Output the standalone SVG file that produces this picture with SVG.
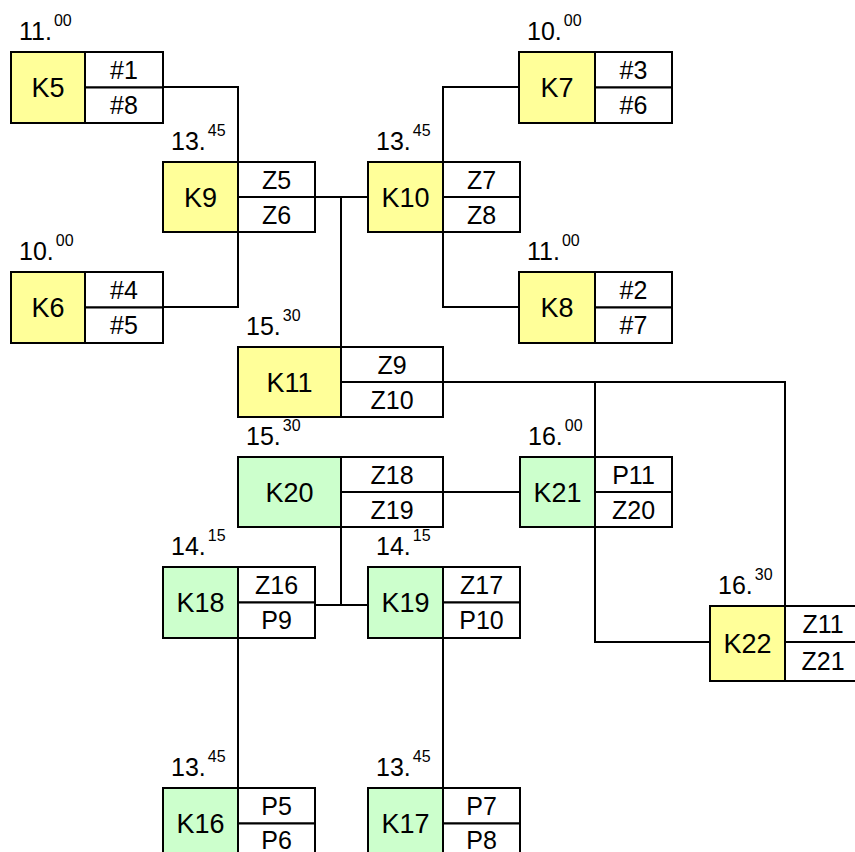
<svg xmlns="http://www.w3.org/2000/svg" width="855" height="852" viewBox="0 0 855 852">
<style>
.y{fill:#FFFF99;stroke:#000;stroke-width:2}
.g{fill:#CCFFCC;stroke:#000;stroke-width:2}
.w{fill:#FFFFFF;stroke:#000;stroke-width:2}
.ln{fill:none;stroke:#000;stroke-width:2}
text{font-family:"Liberation Sans",Arial,sans-serif;fill:#000}
.n{font-size:27px;text-anchor:middle}
.s{font-size:25px;text-anchor:middle}
.t{font-size:25px}
.sup{font-size:16px}
</style>
<rect width="855" height="852" fill="#fff"/>
<g id="connectors">
<path class="ln" d="M163,87 H238 V162"/>
<path class="ln" d="M163,307 H238 V232"/>
<path class="ln" d="M315,197 H368"/>
<path class="ln" d="M443,162 V87 H519"/>
<path class="ln" d="M443,232 V307 H519"/>
<path class="ln" d="M341,197 V347"/>
<path class="ln" d="M443,382 H785 V606"/>
<path class="ln" d="M595,382 V457"/>
<path class="ln" d="M443,492 H520"/>
<path class="ln" d="M595,527 V642 H710"/>
<path class="ln" d="M341,527 V605"/>
<path class="ln" d="M315,605 H368"/>
<path class="ln" d="M238,638 V788"/>
<path class="ln" d="M443,638 V788"/>
</g>
<g id="K5">
<rect class="y" x="11" y="52" width="74" height="71"/>
<rect class="w" x="85" y="52" width="78" height="35.5"/>
<rect class="w" x="85" y="87.5" width="78" height="35.5"/>
<text class="n" x="48" y="97">K5</text>
<text class="s" x="124" y="78.5">#1</text>
<text class="s" x="124" y="113.5">#8</text>
<text class="t" x="19" y="40">11.<tspan class="sup" dx="2" dy="-14">00</tspan></text>
</g>
<g id="K6">
<rect class="y" x="11" y="272" width="74" height="71"/>
<rect class="w" x="85" y="272" width="78" height="35.5"/>
<rect class="w" x="85" y="307.5" width="78" height="35.5"/>
<text class="n" x="48" y="317">K6</text>
<text class="s" x="124" y="298.5">#4</text>
<text class="s" x="124" y="333.5">#5</text>
<text class="t" x="19" y="260">10.<tspan class="sup" dx="2" dy="-14">00</tspan></text>
</g>
<g id="K7">
<rect class="y" x="519" y="52" width="76" height="71"/>
<rect class="w" x="595" y="52" width="77" height="35.5"/>
<rect class="w" x="595" y="87.5" width="77" height="35.5"/>
<text class="n" x="557" y="97">K7</text>
<text class="s" x="633.5" y="78.5">#3</text>
<text class="s" x="633.5" y="113.5">#6</text>
<text class="t" x="527" y="40">10.<tspan class="sup" dx="2" dy="-14">00</tspan></text>
</g>
<g id="K8">
<rect class="y" x="519" y="272" width="76" height="71"/>
<rect class="w" x="595" y="272" width="77" height="35.5"/>
<rect class="w" x="595" y="307.5" width="77" height="35.5"/>
<text class="n" x="557" y="317">K8</text>
<text class="s" x="633.5" y="298.5">#2</text>
<text class="s" x="633.5" y="333.5">#7</text>
<text class="t" x="527" y="260">11.<tspan class="sup" dx="2" dy="-14">00</tspan></text>
</g>
<g id="K9">
<rect class="y" x="163" y="162" width="75" height="70"/>
<rect class="w" x="238" y="162" width="77" height="35"/>
<rect class="w" x="238" y="197" width="77" height="35"/>
<text class="n" x="200.5" y="206.5">K9</text>
<text class="s" x="276.5" y="188.5">Z5</text>
<text class="s" x="276.5" y="223.5">Z6</text>
<text class="t" x="171" y="150">13.<tspan class="sup" dx="2" dy="-14">45</tspan></text>
</g>
<g id="K10">
<rect class="y" x="368" y="162" width="75" height="70"/>
<rect class="w" x="443" y="162" width="77" height="35"/>
<rect class="w" x="443" y="197" width="77" height="35"/>
<text class="n" x="405.5" y="206.5">K10</text>
<text class="s" x="481.5" y="188.5">Z7</text>
<text class="s" x="481.5" y="223.5">Z8</text>
<text class="t" x="376" y="150">13.<tspan class="sup" dx="2" dy="-14">45</tspan></text>
</g>
<g id="K11">
<rect class="y" x="238" y="347" width="103" height="70"/>
<rect class="w" x="341" y="347" width="102" height="35"/>
<rect class="w" x="341" y="382" width="102" height="35"/>
<text class="n" x="289.5" y="391.5">K11</text>
<text class="s" x="392" y="373.5">Z9</text>
<text class="s" x="392" y="408.5">Z10</text>
<text class="t" x="246" y="335">15.<tspan class="sup" dx="2" dy="-14">30</tspan></text>
</g>
<g id="K20">
<rect class="g" x="238" y="457" width="103" height="70"/>
<rect class="w" x="341" y="457" width="102" height="35"/>
<rect class="w" x="341" y="492" width="102" height="35"/>
<text class="n" x="289.5" y="501.5">K20</text>
<text class="s" x="392" y="483.5">Z18</text>
<text class="s" x="392" y="518.5">Z19</text>
<text class="t" x="246" y="445">15.<tspan class="sup" dx="2" dy="-14">30</tspan></text>
</g>
<g id="K21">
<rect class="g" x="520" y="457" width="75" height="70"/>
<rect class="w" x="595" y="457" width="77" height="35"/>
<rect class="w" x="595" y="492" width="77" height="35"/>
<text class="n" x="557.5" y="501.5">K21</text>
<text class="s" x="633.5" y="483.5">P11</text>
<text class="s" x="633.5" y="518.5">Z20</text>
<text class="t" x="528" y="445">16.<tspan class="sup" dx="2" dy="-14">00</tspan></text>
</g>
<g id="K18">
<rect class="g" x="163" y="567" width="75" height="71"/>
<rect class="w" x="238" y="567" width="77" height="35.5"/>
<rect class="w" x="238" y="602.5" width="77" height="35.5"/>
<text class="n" x="200.5" y="612">K18</text>
<text class="s" x="276.5" y="593.5">Z16</text>
<text class="s" x="276.5" y="628.5">P9</text>
<text class="t" x="171" y="555">14.<tspan class="sup" dx="2" dy="-14">15</tspan></text>
</g>
<g id="K19">
<rect class="g" x="368" y="567" width="75" height="71"/>
<rect class="w" x="443" y="567" width="77" height="35.5"/>
<rect class="w" x="443" y="602.5" width="77" height="35.5"/>
<text class="n" x="405.5" y="612">K19</text>
<text class="s" x="481.5" y="593.5">Z17</text>
<text class="s" x="481.5" y="628.5">P10</text>
<text class="t" x="376" y="555">14.<tspan class="sup" dx="2" dy="-14">15</tspan></text>
</g>
<g id="K22">
<rect class="y" x="710" y="606" width="75" height="75"/>
<rect class="w" x="785" y="606" width="78" height="36"/>
<rect class="w" x="785" y="642" width="78" height="39"/>
<text class="n" x="747.5" y="653">K22</text>
<text class="s" x="823" y="633">Z11</text>
<text class="s" x="823" y="670">Z21</text>
<text class="t" x="718" y="594">16.<tspan class="sup" dx="2" dy="-14">30</tspan></text>
</g>
<g id="K16">
<rect class="g" x="163" y="788" width="75" height="71"/>
<rect class="w" x="238" y="788" width="77" height="35.5"/>
<rect class="w" x="238" y="823.5" width="77" height="35.5"/>
<text class="n" x="200.5" y="833">K16</text>
<text class="s" x="276.5" y="814.5">P5</text>
<text class="s" x="276.5" y="849">P6</text>
<text class="t" x="171" y="776">13.<tspan class="sup" dx="2" dy="-14">45</tspan></text>
</g>
<g id="K17">
<rect class="g" x="368" y="788" width="75" height="71"/>
<rect class="w" x="443" y="788" width="77" height="35.5"/>
<rect class="w" x="443" y="823.5" width="77" height="35.5"/>
<text class="n" x="405.5" y="833">K17</text>
<text class="s" x="481.5" y="814.5">P7</text>
<text class="s" x="481.5" y="849">P8</text>
<text class="t" x="376" y="776">13.<tspan class="sup" dx="2" dy="-14">45</tspan></text>
</g>
</svg>
